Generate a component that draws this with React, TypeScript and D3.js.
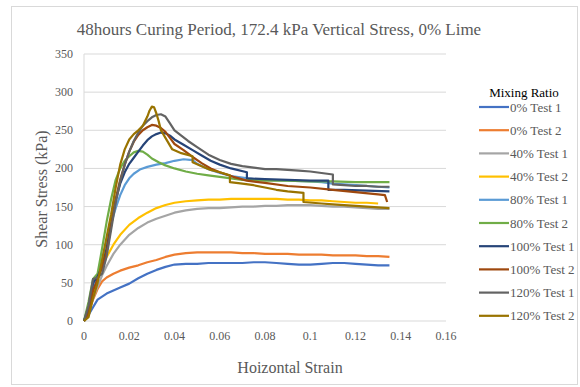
import React from "react";
import * as d3 from "d3";

// Shear stress (kPa) against horizontal strain for each mixing ratio test
const seriesNames = [
  "0% Test 1", "0% Test 2", "40% Test 1", "40% Test 2", "80% Test 1",
  "80% Test 2", "100% Test 1", "100% Test 2", "120% Test 1", "120% Test 2",
];
const seriesColors = [
  "#4472C4", "#ED7D31", "#A5A5A5", "#FFC000", "#5B9BD5",
  "#70AD47", "#264478", "#9E480E", "#636363", "#997300",
];

const strainLow = [0, 0.002, 0.004, 0.006, 0.008, 0.01, 0.013, 0.016, 0.02, 0.024, 0.028, 0.032, 0.036, 0.04, 0.045, 0.05, 0.055, 0.06, 0.065, 0.07, 0.075, 0.08, 0.085, 0.09, 0.095, 0.1, 0.105, 0.11, 0.115, 0.12, 0.125, 0.13, 0.135];
const stress0T1 = [0, 8, 18, 28, 32, 36, 40, 44, 49, 56, 62, 67, 71, 74, 75, 75, 76, 76, 76, 76, 77, 77, 76, 75, 74, 74, 75, 76, 76, 75, 74, 73, 73];
const stress0T2 = [0, 12, 28, 42, 52, 57, 62, 66, 70, 73, 77, 80, 84, 87, 89, 90, 90, 90, 90, 89, 89, 88, 88, 88, 87, 87, 87, 86, 86, 86, 85, 85, 84];
const stress40T1 = [0, 15, 30, 45, 60, 72, 88, 100, 113, 122, 129, 134, 138, 142, 145, 147, 148, 148, 149, 150, 150, 151, 151, 152, 152, 152, 151, 150, 150, 149, 148, 147, 147];
const strain40T2 = [0, 0.002, 0.004, 0.006, 0.008, 0.01, 0.013, 0.016, 0.02, 0.024, 0.028, 0.032, 0.036, 0.04, 0.045, 0.05, 0.055, 0.06, 0.065, 0.07, 0.075, 0.08, 0.085, 0.09, 0.095, 0.1, 0.105, 0.11, 0.115, 0.12, 0.125, 0.13];
const stress40T2 = [0, 18, 36, 55, 70, 84, 100, 113, 126, 135, 142, 148, 152, 155, 157, 158, 159, 159, 160, 160, 160, 160, 160, 159, 159, 158, 158, 157, 156, 155, 155, 154];

const strain80T1 = [0, 0.002, 0.004, 0.006, 0.008, 0.01, 0.012, 0.014, 0.016, 0.018, 0.02, 0.022, 0.025, 0.028, 0.032, 0.036, 0.04, 0.044, 0.048, 0.05, 0.055, 0.06, 0.065, 0.07, 0.075, 0.08, 0.09, 0.1, 0.105, 0.11, 0.12, 0.13, 0.135];
const stress80T1 = [0, 20, 45, 60, 80, 105, 128, 148, 165, 178, 187, 193, 199, 202, 205, 207, 210, 212, 211, 206, 199, 194, 190, 188, 186, 185, 184, 183, 182, 180, 178, 176, 175];
const strain80T2 = [0, 0.002, 0.004, 0.006, 0.008, 0.01, 0.012, 0.014, 0.016, 0.018, 0.02, 0.022, 0.024, 0.026, 0.028, 0.03, 0.033, 0.036, 0.04, 0.045, 0.05, 0.055, 0.06, 0.065, 0.07, 0.08, 0.09, 0.1, 0.11, 0.12, 0.13, 0.135];
const stress80T2 = [0, 25, 55, 62, 95, 130, 160, 185, 200, 210, 216, 221, 223, 222, 218, 213, 208, 204, 200, 196, 193, 191, 189, 187, 185, 184, 184, 183, 183, 182, 182, 182];

const strain100T1 = [0, 0.002, 0.004, 0.006, 0.008, 0.01, 0.012, 0.014, 0.016, 0.018, 0.02, 0.022, 0.024, 0.026, 0.028, 0.03, 0.032, 0.034, 0.036, 0.038, 0.04, 0.044, 0.048, 0.052, 0.056, 0.06, 0.065, 0.072, 0.072, 0.08, 0.09, 0.1, 0.108, 0.108, 0.115, 0.125, 0.135];
const stress100T1 = [0, 15, 50, 58, 72, 95, 128, 158, 180, 195, 206, 214, 222, 230, 237, 242, 245, 247, 246, 243, 238, 231, 224, 217, 210, 205, 200, 195, 187, 186, 185, 184, 184, 172, 172, 171, 170];
const strain100T2 = [0, 0.002, 0.004, 0.006, 0.008, 0.01, 0.012, 0.014, 0.016, 0.018, 0.02, 0.022, 0.024, 0.026, 0.028, 0.03, 0.032, 0.034, 0.036, 0.038, 0.04, 0.044, 0.048, 0.052, 0.056, 0.06, 0.066, 0.072, 0.08, 0.09, 0.1, 0.11, 0.12, 0.13, 0.133, 0.134];
const stress100T2 = [0, 10, 40, 55, 70, 90, 125, 160, 185, 205, 222, 235, 244, 250, 254, 257, 256, 253, 248, 240, 232, 224, 215, 207, 200, 195, 189, 184, 181, 177, 175, 172, 169, 166, 165, 156];

const strain120T1 = [0, 0.002, 0.004, 0.006, 0.008, 0.01, 0.012, 0.014, 0.016, 0.018, 0.02, 0.022, 0.024, 0.026, 0.028, 0.03, 0.032, 0.034, 0.036, 0.038, 0.04, 0.043, 0.046, 0.05, 0.055, 0.06, 0.065, 0.07, 0.075, 0.08, 0.085, 0.09, 0.095, 0.1, 0.105, 0.11, 0.11, 0.115, 0.12, 0.125, 0.13, 0.135];
const stress120T1 = [0, 20, 55, 57, 62, 85, 120, 155, 183, 205, 222, 236, 247, 256, 262, 267, 270, 271, 268, 259, 250, 243, 236, 228, 218, 211, 206, 203, 201, 199, 199, 198, 197, 196, 194, 192, 179, 178, 177, 177, 176, 176];
const strain120T2 = [0, 0.002, 0.004, 0.006, 0.008, 0.01, 0.012, 0.014, 0.016, 0.018, 0.02, 0.022, 0.024, 0.026, 0.028, 0.029, 0.03, 0.031, 0.032, 0.033, 0.034, 0.036, 0.039, 0.043, 0.048, 0.048, 0.052, 0.056, 0.06, 0.0645, 0.0645, 0.07, 0.075, 0.08, 0.085, 0.09, 0.097, 0.097, 0.105, 0.11, 0.115, 0.12, 0.125, 0.13, 0.135];
const stress120T2 = [0, 5, 30, 50, 80, 110, 140, 175, 205, 225, 238, 245, 250, 256, 268, 276, 281, 280, 272, 262, 250, 240, 225, 220, 216, 208, 203, 198, 195, 191, 182, 180, 178, 175, 172, 170, 168, 156, 154, 153, 152, 151, 150, 149, 148];

const seriesStrain = [strainLow, strainLow, strainLow, strain40T2, strain80T1, strain80T2, strain100T1, strain100T2, strain120T1, strain120T2];
const seriesStress = [stress0T1, stress0T2, stress40T1, stress40T2, stress80T1, stress80T2, stress100T1, stress100T2, stress120T1, stress120T2];

const xTicks = [0, 0.02, 0.04, 0.06, 0.08, 0.1, 0.12, 0.14, 0.16];
const yTicks = [0, 50, 100, 150, 200, 250, 300, 350];

const W = 580;
const H = 387;
const serif = { fontFamily: "Liberation Serif, Times New Roman, serif" };
const textColor = "#595959";

export default function App() {
  const x = d3.scaleLinear().domain([0, 0.16]).range([84, 446]);
  const y = d3.scaleLinear().domain([0, 350]).range([321, 54]);
  const line = d3
    .line<[number, number]>()
    .x((d) => x(d[0]))
    .y((d) => y(d[1]));

  return (
    <svg
      width={W}
      height={H}
      style={{ position: "absolute", left: 0, top: 0, background: "#fff", ...serif }}
    >
      <rect x={11.5} y={6.5} width={566} height={378} fill="#fff" stroke="#d9d9d9" />
      <text x={279} y={35} textAnchor="middle" fontSize={17} fill={textColor} style={serif}>
        48hours Curing Period, 172.4 kPa Vertical Stress, 0% Lime
      </text>

      {yTicks.map((t) => (
        <g key={"y" + t}>
          <line x1={84} x2={446} y1={y(t)} y2={y(t)} stroke="#d9d9d9" strokeWidth={1} />
          <text x={73} y={y(t) + 4} textAnchor="end" fontSize={12} fill={textColor} style={serif}>
            {t}
          </text>
        </g>
      ))}
      <line x1={84} x2={84} y1={y(0)} y2={y(350)} stroke="#d9d9d9" strokeWidth={1} />
      {xTicks.map((t) => (
        <text key={"x" + t} x={x(t)} y={340} textAnchor="middle" fontSize={12} fill={textColor} style={serif}>
          {String(t)}
        </text>
      ))}

      <text x={290} y={373} textAnchor="middle" fontSize={16} fill={textColor} style={serif}>
        Hoizontal Strain
      </text>
      <text
        transform={`translate(47,189) rotate(-90)`}
        textAnchor="middle"
        fontSize={16}
        fill={textColor}
        style={serif}
      >
        Shear Stress (kPa)
      </text>

      <g>
        {seriesNames.map((name, i) => {
          const pts = seriesStrain[i].map((s, j) => [s, seriesStress[i][j]] as [number, number]);
          return (
            <path
              key={name}
              d={line(pts) ?? ""}
              fill="none"
              stroke={seriesColors[i]}
              strokeWidth={2.2}
              strokeLinejoin="round"
            />
          );
        })}
      </g>

      <text x={524} y={97} textAnchor="middle" fontSize={13} fill="#000" style={serif}>
        Mixing Ratio
      </text>
      {seriesNames.map((name, i) => {
        const ly = 107 + i * 23.2;
        return (
          <g key={"lg" + name}>
            <line x1={479} x2={509} y1={ly} y2={ly} stroke={seriesColors[i]} strokeWidth={2.2} />
            <text x={510} y={ly + 4.5} fontSize={13} fill={textColor} style={serif}>
              {name}
            </text>
          </g>
        );
      })}
    </svg>
  );
}
